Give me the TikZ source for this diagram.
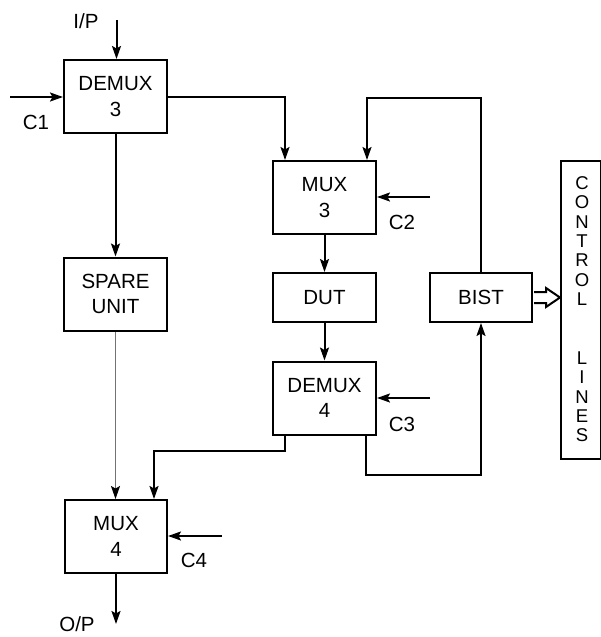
\documentclass[tikz,border=0pt]{standalone}
\usepackage{fontspec}
\setmainfont{Liberation Sans}
\usetikzlibrary{arrows.meta,calc}
\begin{document}
\begin{tikzpicture}[x=1pt,y=-1pt,
  box/.style={draw, line width=2pt, minimum width=103pt, minimum height=73pt,
    align=center, inner sep=0pt, font=\fontsize{20.5}{25.5}\selectfont},
  lbl/.style={font=\fontsize{20.5}{24}\selectfont, inner sep=0pt},
  ltr/.style={font=\fontsize{18.5}{20}\selectfont, inner sep=0pt},
  arr/.style={line width=2pt, -{Stealth[length=13pt,width=9pt,inset=2.5pt]}},
  greyline/.style={draw=black!55, line width=1pt, -{Stealth[length=13pt,width=9pt,inset=2.5pt,color=black]}}]
\useasboundingbox (0,0) rectangle (600,637);

% boxes
\node[box] (demuxA) at (115.5,96.5) {DEMUX\\3};
\node[box] (spare) at (115.5,294) {SPARE\\UNIT};
\node[box] (muxA) at (324.5,197.5) {MUX\\3};
\node[box, minimum height=49pt] (dut) at (324.5,297.5) {DUT};
\node[box, minimum height=49pt, minimum width=102pt] (bist) at (481,297.5) {BIST};
\node[box] (demuxB) at (324.5,398) {DEMUX\\4};
\node[box, minimum width=102pt] (muxB) at (116,536.5) {MUX\\4};
\node[draw, line width=2pt, minimum width=40pt, minimum height=298pt, inner sep=0pt] (ctrl) at (581,310) {};

% control-lines letters
\foreach \l [count=\i from 0] in {C,O,N,T,R,O,L}
  \node[ltr] (ca\i) at (582,183+19.4*\i) {\l};
\foreach \l [count=\i from 0] in {L,I,N,E,S}
  \node[ltr] (cb\i) at (582,358+19.4*\i) {\l};

% labels
\node[lbl] (ipl) at (86,21) {I/P};
\node[lbl] (c1l) at (36,122) {C1};
\node[lbl] (c2l) at (402,222) {C2};
\node[lbl] (c3l) at (402,424) {C3};
\node[lbl] (c4l) at (194,560) {C4};
\node[lbl] (opl) at (77,624) {O/P};

% free ends
\coordinate (ip) at (116.5,20);
\coordinate (c1s) at (10,97);
\coordinate (c2s) at (430,197);
\coordinate (c3s) at (430,398);
\coordinate (c4s) at (222,536);
\coordinate (fbtop) at (0,98);

% connectors
\draw[arr] (ip) -- (ip |- demuxA.north);
\draw[arr] (c1s) -- (c1s -| demuxA.west);
\draw[arr] (demuxA.east) -| ([xshift=13pt]muxA.north west);
\draw[arr] (demuxA.south) -- (spare.north);
\draw[arr] (bist.north) -- (bist.north |- fbtop) -| ([xshift=-10pt]muxA.north east);
\draw[arr] (c2s) -- (c2s -| muxA.east);
\draw[arr] (muxA.south) -- (dut.north);
\draw[arr] (dut.south) -- (demuxB.north);
\draw[arr] (c3s) -- (c3s -| demuxB.east);
\draw[arr] ([xshift=-11.5pt]demuxB.south east) -- ++(0,39) -| (bist.south);
\draw[arr] ([xshift=13pt]demuxB.south west) -- ++(0,15) -| ([xshift=90pt]muxB.north west);
\draw[greyline] (spare.south) -- (spare.south |- muxB.north);
\draw[arr] (c4s) -- (c4s -| muxB.east);
\draw[arr] (muxB.south) -- ++(0,50) coordinate (op);

% hollow arrow BIST -> control lines
\draw[line width=2pt, line join=miter] ($(bist.east)+(1,-5.5)$) -- ++(12,0) -- ++(0,-4)
  -- (ctrl.west |- bist.east) -- ($(bist.east)+(13,9.5)$) -- ++(0,-4) -- ($(bist.east)+(1,5.5)$);
\end{tikzpicture}
\end{document}
